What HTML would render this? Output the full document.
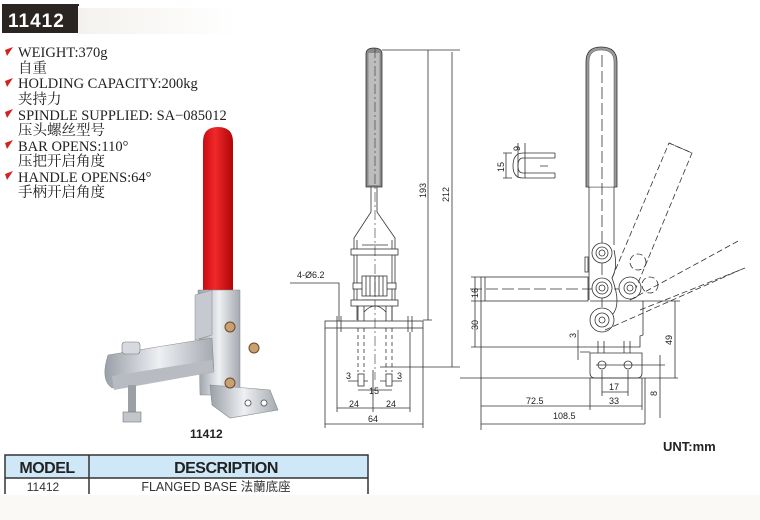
<!DOCTYPE html>
<html><head><meta charset="utf-8"><style>
html,body{margin:0;padding:0;background:#fff;}
svg{display:block}
.s{font-family:"Liberation Serif","Noto Serif CJK SC",serif;font-size:14.5px;fill:#222}
.d{font-family:"Liberation Sans",sans-serif;font-size:9px;fill:#222}
</style></head><body>
<svg width="760" height="520" viewBox="0 0 760 520" xmlns="http://www.w3.org/2000/svg">
<defs>
<linearGradient id="hg" x1="0" x2="1"><stop offset="0" stop-color="#f4f2ee"/><stop offset="1" stop-color="#fff"/></linearGradient>
<linearGradient id="red" x1="0" x2="1"><stop offset="0" stop-color="#c80c10"/><stop offset=".4" stop-color="#f0282a"/><stop offset="1" stop-color="#b00608"/></linearGradient>
<linearGradient id="met" x1="0" x2="1"><stop offset="0" stop-color="#9aa0a8"/><stop offset=".5" stop-color="#eef0f3"/><stop offset="1" stop-color="#a4a9b0"/></linearGradient>
</defs>
<rect x="0" y="495" width="760" height="25" fill="#fbf9f5"/>
<!-- header -->
<rect x="78" y="8" width="160" height="26" fill="url(#hg)"/>
<rect x="2" y="5" width="74" height="28" fill="#2b2522"/>
<line x1="2" y1="5" x2="79" y2="5" stroke="#2b2522" stroke-width="2"/>
<line x1="77" y1="5" x2="77" y2="33" stroke="#2b2522" stroke-width="2"/>
<text x="8" y="27" font-family="Liberation Sans,sans-serif" font-weight="bold" font-size="19" fill="#fff" letter-spacing="1">11412</text>
<!-- spec list -->
<g fill="#d42020">
<polygon points="5,50 13,47 7,56"/><polygon points="5,81 13,78 7,87"/><polygon points="5,112 13,109 7,118"/><polygon points="5,143 13,140 7,149"/><polygon points="5,174 13,171 7,180"/>
</g>
<text class="s" x="18" y="57">WEIGHT:370g</text>
<text class="s" x="18" y="73">自重</text>
<text class="s" x="18" y="88">HOLDING CAPACITY:200kg</text>
<text class="s" x="18" y="104">夹持力</text>
<text class="s" x="18" y="120">SPINDLE SUPPLIED:  SA−085012</text>
<text class="s" x="18" y="135">压头螺丝型号</text>
<text class="s" x="18" y="151">BAR OPENS:110°</text>
<text class="s" x="18" y="166">压把开启角度</text>
<text class="s" x="18" y="182">HANDLE OPENS:64°</text>
<text class="s" x="18" y="197">手柄开启角度</text>
<!-- photo -->
<path d="M203,290 V142 Q203,127 218,127 Q233,127 233,142 V290 Z" fill="url(#red)"/>
<path d="M198,290 L240,290 L240,395 L200,395 Z" fill="url(#met)" stroke="#888" stroke-width=".5"/>
<path d="M195,295 L212,290 L212,335 L195,340 Z" fill="#c6cad0" stroke="#888" stroke-width=".5"/>
<path d="M108,355 L212,338 L214,372 L112,388 Q100,380 108,355 Z" fill="url(#met)" stroke="#888" stroke-width=".5"/>
<path d="M112,376 L212,360 L214,372 L114,390 Z" fill="#b8bcc2"/>
<rect x="122" y="342" width="18" height="12" rx="3" fill="#d6d9de" stroke="#777" stroke-width=".6"/>
<rect x="128" y="385" width="8" height="35" fill="#9aa0a6"/>
<rect x="123" y="412" width="18" height="10" fill="#c2c6cc" stroke="#777" stroke-width=".6"/>
<path d="M210,385 L270,390 L278,410 L230,418 L212,405 Z" fill="url(#met)" stroke="#888" stroke-width=".6"/>
<circle cx="248" cy="403" r="3" fill="#fff" stroke="#666"/><circle cx="264" cy="403" r="3" fill="#fff" stroke="#666"/>
<circle cx="230" cy="327" r="5" fill="#c9a070" stroke="#6a4a2a"/>
<circle cx="254" cy="348" r="5" fill="#c9a070" stroke="#6a4a2a"/>
<circle cx="230" cy="383" r="5" fill="#c9a070" stroke="#6a4a2a"/>
<text x="190" y="438" font-family="Liberation Sans,sans-serif" font-weight="bold" font-size="12" fill="#222">11412</text>
<!-- table -->
<rect x="5" y="455" width="363" height="23" fill="#cfe8f7"/>
<g stroke="#333" stroke-width="1.5" fill="none">
<path d="M5,494 V455 H368 V494"/><line x1="5" y1="478" x2="368" y2="478"/><line x1="89" y1="455" x2="89" y2="494"/>
</g>
<text x="47" y="473" text-anchor="middle" font-family="Liberation Sans,sans-serif" font-weight="bold" font-size="16" fill="#222" letter-spacing="-0.5">MODEL</text>
<text x="226" y="473" text-anchor="middle" font-family="Liberation Sans,sans-serif" font-weight="bold" font-size="16" fill="#222" letter-spacing="-0.5">DESCRIPTION</text>
<text x="43" y="491" text-anchor="middle" font-family="Liberation Sans,sans-serif" font-size="12" fill="#333">11412</text>
<text x="216" y="491" text-anchor="middle" font-family="Liberation Sans,'Noto Sans CJK SC',sans-serif" font-size="12.5" fill="#333">FLANGED BASE  法蘭底座</text>

<!-- front view -->
<g stroke="#333" stroke-width=".8" fill="none">
<path d="M366,187 V54 Q366,48 374,48 Q382,48 382,54 V187 Z" fill="#8a8a8a"/>
<rect x="368.5" y="53" width="11" height="132" fill="#bdbdbd" stroke="none"/>
<path d="M371,187 V212 L354,238 V300 M377,187 V212 L395,238 V300"/>
<path d="M357,240 V320 M392,240 V320 M362,245 H388 M362,300 H388"/>
<rect x="351" y="249" width="47" height="6" fill="#fff"/>
<rect x="351" y="300" width="47" height="6" fill="#fff"/>
<rect x="353" y="283" width="43" height="6" fill="#fff"/>
<rect x="362" y="276" width="25" height="20" fill="#fff"/>
<path d="M366,276 V296 M370,276 V296 M375,276 V296 M379,276 V296 M383,276 V296"/>
<path d="M358,306 V321 M364,306 V321 M386,306 V321 M392,306 V321 M364,312 Q375,300 386,312"/>
<path d="M358,321 V372 M364,321 V372 M386,321 V372 M392,321 V372" stroke-dasharray="4,3"/>
<rect x="358" y="374" width="6" height="12"/><rect x="386" y="374" width="6" height="12"/>
<rect x="325" y="321" width="98" height="7" fill="#fff"/>
<path d="M337,316 V332 M341,316 V332 M408,316 V332 M412,316 V332"/>
<path d="M375,48 V380" stroke-dasharray="10,3,2,3" stroke-width=".6"/>
<path d="M325,328 V428 M423,328 V428 M337,332 V412 M410,332 V412 M373,370 V412"/>
<path d="M382,50 H460 M423,320 H432 M380,367 H460"/>
<path d="M428,50 V320 M452,52 V367"/>
<path d="M290,283 H339 V321"/>
<path d="M325,424 H423 M337,408 H410 M358,390 H392 M348,381 H358 M364,381 H368 M380,381 H386 M392,381 H402"/>
</g>
<text class="d" x="297" y="278">4-Ø6.2</text>
<text class="d" transform="translate(426,198) rotate(-90)">193</text>
<text class="d" transform="translate(449,202) rotate(-90)">212</text>
<text class="d" x="346" y="379">3</text><text class="d" x="397" y="379">3</text>
<text class="d" x="369" y="394">15</text>
<text class="d" x="349" y="407">24</text><text class="d" x="386" y="407">24</text>
<text class="d" x="368" y="422">64</text>

<!-- side view -->
<g stroke="#333" stroke-width=".8" fill="none">
<path d="M586,187 V62 Q586,47 601,47 Q617,47 617,62 V187 Z" fill="#999"/>
<path d="M589,187 V62 Q589,50 601,50 Q614,50 614,62 V187 Z" fill="#fff" stroke="#555" stroke-width=".5"/>
<path d="M589,187 V300 M614,187 V245"/>
<path d="M602,55 V330" stroke-dasharray="12,4"/>
<rect x="481" y="277" width="107" height="24" fill="#fff"/>
<path d="M485,277 V301"/>
<path d="M470,289 H640" stroke-dasharray="12,4"/>
<path d="M614,250 Q618,268 612,278 Q622,305 612,315"/>
<circle cx="602" cy="253" r="10" fill="#fff"/><circle cx="602" cy="253" r="6"/><circle cx="602" cy="253" r="3"/>
<circle cx="602" cy="288" r="10" fill="#fff"/><circle cx="602" cy="288" r="6"/><circle cx="602" cy="288" r="3"/>
<circle cx="630" cy="288" r="11" fill="#fff"/><circle cx="630" cy="288" r="6"/><circle cx="630" cy="288" r="3"/>
<circle cx="602" cy="320" r="12" fill="#fff"/><circle cx="602" cy="320" r="7"/><circle cx="602" cy="320" r="3"/>
<path d="M643,301 V335 L640,336 V347 H590 M590,301 H648"/>
<path d="M585,257 H588 V272 H585 Z"/>
<path d="M598,341 V353 M604,341 V353 M624,341 V353 M630,341 V353"/>
<path d="M590,353 H642 V373 Q642,378 637,378 H595 Q590,378 590,373 Z"/>
<circle cx="602" cy="365" r="4"/><circle cx="628" cy="365" r="4"/>
<path d="M596,365 H665"/>
<path d="M460,378 H678 M471,347 H590 M471,277 H481 M471,301 H481"/>
<path d="M475,277 V347 M578,330 V360 M580,352 H590 M578,340 V330"/>
<path d="M675,301 V378 M648,301 H680 M660,355 V418"/>
<path d="M481,301 V430 M590,378 V410 M602,370 V396 M628,370 V396 M642,378 V410 M645,378 V424"/>
<path d="M602,392 H628 M590,406 H642 M481,406 H590 M481,424 H645"/>
<g stroke-dasharray="6,3">
<path d="M612,278 L669,143 L692,153 L636,288"/>
<path d="M669,143 L692,153"/>
<path d="M630,300 L740,240 M640,310 L745,268"/>
<path d="M605,330 L740,270"/>
<circle cx="638" cy="262" r="8"/><circle cx="650" cy="285" r="8"/>
</g>
<path d="M555,153 H523 Q513,153 513,166 Q513,178 523,178 H555 M555,158 H523 Q518,158 518,166 Q518,173 523,173 H555 M555,153 V158 M555,173 V178"/>
<path d="M503,153 H512 M503,178 H512 M506,153 V178 M518,143 V178 M525,143 V178 M540,166 H548"/>
</g>
<text class="d" transform="translate(504,172) rotate(-90)">15</text>
<text class="d" transform="translate(520,151) rotate(-90)">9</text>
<text class="d" transform="translate(478,298) rotate(-90)">16</text>
<text class="d" transform="translate(478,330) rotate(-90)">30</text>
<text class="d" transform="translate(576,338) rotate(-90)">3</text>
<text class="d" transform="translate(672,345) rotate(-90)">49</text>
<text class="d" transform="translate(657,396) rotate(-90)">8</text>
<text class="d" x="609" y="390">17</text>
<text class="d" x="609" y="404">33</text>
<text class="d" x="526" y="404">72.5</text>
<text class="d" x="553" y="419">108.5</text>
<text x="663" y="451" font-family="Liberation Sans,sans-serif" font-weight="bold" font-size="13" fill="#222">UNT:mm</text>
</svg>
</body></html>
